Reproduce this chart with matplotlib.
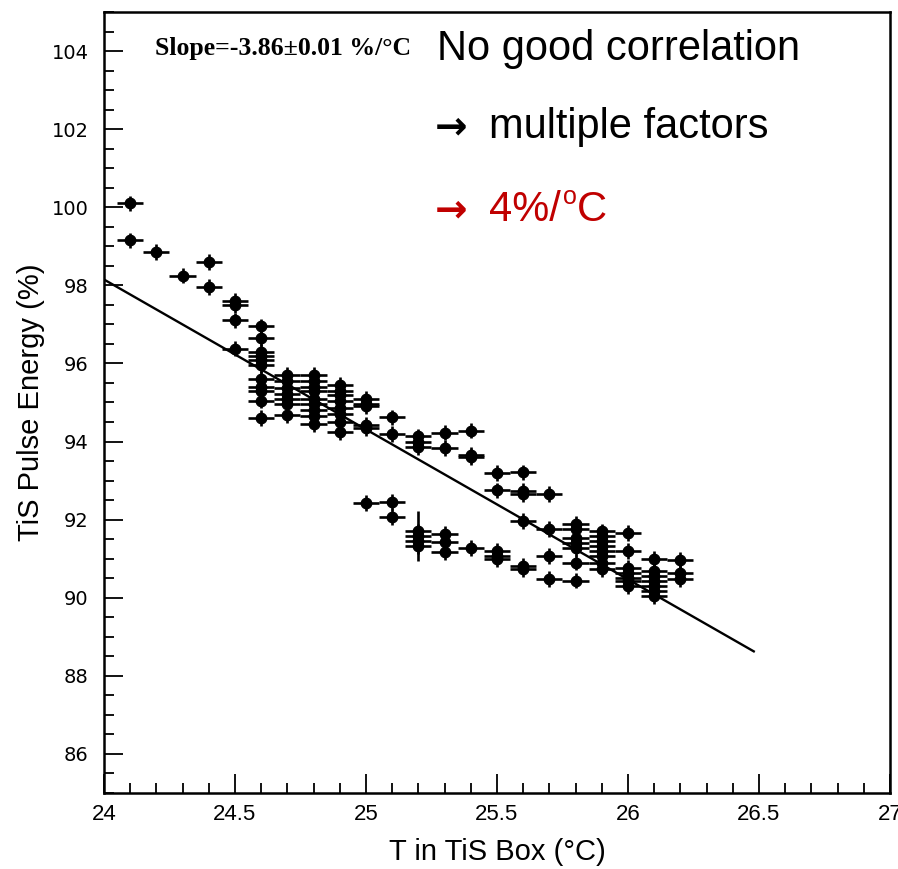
import numpy as np
import matplotlib
matplotlib.use("Agg")
import matplotlib.pyplot as plt
from matplotlib.ticker import MultipleLocator

# temperature groups (deg C) and the pulse energies measured at each one (%)
temps = [24.1, 24.2, 24.3, 24.4, 24.5, 24.6, 24.7, 24.8, 24.9, 25.0, 25.1,
         25.2, 25.3, 25.4, 25.5, 25.6, 25.7, 25.8, 25.9, 26.0, 26.1, 26.2]
energies = [
    [100.1, 99.15],
    [98.85],
    [98.25],
    [98.6, 97.95],
    [97.6, 97.5, 97.1, 96.38],
    [96.95, 96.65, 96.3, 96.2, 96.1, 95.95, 95.6, 95.4, 95.3, 95.05, 94.6],
    [95.7, 95.55, 95.37, 95.23, 95.1, 94.95, 94.67],
    [95.7, 95.55, 95.4, 95.3, 95.1, 94.95, 94.8, 94.65, 94.45],
    [95.45, 95.3, 95.2, 95.03, 94.85, 94.7, 94.5, 94.25],
    [95.1, 94.97, 94.9, 94.43, 94.35, 92.42],
    [94.62, 94.2, 92.45, 92.07],
    [94.13, 94.0, 93.85, 91.7, 91.58, 91.45, 91.33],
    [94.23, 93.83, 91.63, 91.43, 91.17],
    [94.28, 93.65, 93.6, 91.28],
    [93.19, 92.75, 91.2, 91.07, 91.0],
    [93.21, 92.73, 92.65, 91.96, 90.82, 90.74],
    [92.65, 91.76, 91.07, 90.48],
    [91.9, 91.76, 91.53, 91.4, 91.28, 90.9, 90.44],
    [91.7, 91.58, 91.45, 91.33, 91.2, 91.07, 90.9, 90.73],
    [91.66, 91.2, 90.77, 90.64, 90.5, 90.43, 90.3],
    [90.99, 90.69, 90.56, 90.43, 90.3, 90.18, 90.05],
    [90.97, 90.64, 90.48],
]
t_err = 0.05
e_err = 0.2
big_err_point = (25.2, 91.58)   # the one with the long vertical bar
big_err = 0.65

# linear fit drawn in the reference
fit_t = [24.0, 26.48]
fit_intercept = 98.15   # value at 24 C
fit_slope = -3.84

x = []
y = []
yerr = []
for t, es in zip(temps, energies):
    for e in es:
        x.append(t)
        y.append(e)
        yerr.append(big_err if (t, e) == big_err_point else e_err)

fig = plt.figure(figsize=(8.98, 8.69), dpi=100)
ax = fig.add_axes([104/898, 1-793/869, 786/898, 781/869])

ax.errorbar(x, y, xerr=t_err, yerr=yerr, fmt='o', color='black', ms=7.5,
            elinewidth=1.9, capsize=0)
ft = np.array(fit_t)
ax.plot(ft, fit_intercept + fit_slope*(ft-24.0), color='black', lw=1.7)

ax.set_xlim(24, 27)
ax.set_ylim(85, 105)
ax.xaxis.set_major_locator(MultipleLocator(0.5))
ax.xaxis.set_minor_locator(MultipleLocator(0.1))
ax.yaxis.set_major_locator(MultipleLocator(2))
ax.yaxis.set_minor_locator(MultipleLocator(0.5))
ax.xaxis.set_major_formatter(plt.FuncFormatter(lambda v, p: f"{v:g}"))
ax.tick_params(which='both', direction='in', top=False, right=False, width=1.3)
ax.tick_params(which='major', length=14)
ax.tick_params(which='minor', length=7)
ax.tick_params(axis='x', pad=8)
ax.tick_params(axis='y', pad=11)
for s in ax.spines.values():
    s.set_linewidth(1.8)

sans = ['Liberation Sans', 'DejaVu Sans']
for lab in ax.get_xticklabels():
    lab.set_family(sans)
    lab.set_fontsize(16)
for lab in ax.get_yticklabels():
    lab.set_family('DejaVu Sans')
    lab.set_fontsize(14)

ax.set_xlabel('T in TiS Box (°C)', family=sans, fontsize=21)
ax.set_ylabel('TiS Pulse Energy (%)', family=sans, fontsize=21)
ax.xaxis.set_label_coords(0.5, -0.058)
ax.yaxis.set_label_coords(-0.075, 0.5)

ax.text(155/898, 1-55/869, 'Slope=-3.86±0.01 %/°C', transform=fig.transFigure,
        family=['Liberation Serif', 'DejaVu Serif'], weight='bold', fontsize=18.5,
        va='baseline')

fig.text(437/898, 1-60/869, 'No good correlation', family=sans, fontsize=30,
         va='baseline')
fig.text(435/898, 1-138/869, '→', family='DejaVu Sans', fontsize=28,
         va='baseline', weight='bold')
fig.text(489/898, 1-138/869, 'multiple factors', family=sans, fontsize=30,
         va='baseline')
red = '#C00000'
fig.text(435/898, 1-221/869, '→', family='DejaVu Sans', fontsize=28,
         va='baseline', color=red, weight='bold')
t3 = fig.text(489/898, 1-221/869, '4%/', family=sans, fontsize=30,
              va='baseline', color=red)
fig.canvas.draw()
r = fig.canvas.get_renderer()
bb = t3.get_window_extent(r)
t4 = fig.text(bb.x1 / fig.bbox.width + 0.002, 1-204/869, 'o', family=sans,
              fontsize=18, va='baseline', color=red)
bb4 = t4.get_window_extent(r)
fig.text(bb4.x1 / fig.bbox.width, 1-221/869, 'C', family=sans, fontsize=30,
         va='baseline', color=red)

fig.savefig('out.png', dpi=100)
